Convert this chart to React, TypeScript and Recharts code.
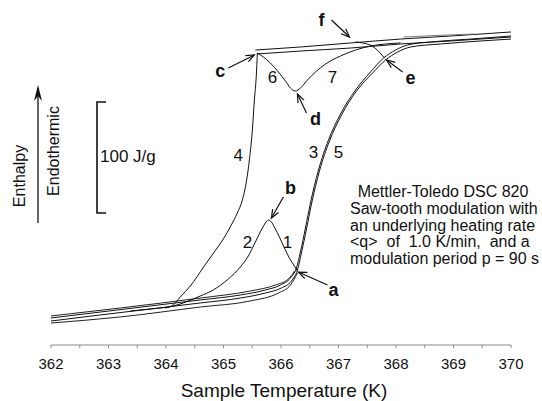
import React from "react";
import { LineChart, Line, XAxis, YAxis, ReferenceLine, ReferenceDot } from "recharts";

// temperature (K), enthalpy (J/g, arbitrary zero)
type Pt = [number, number];

const tempTicks = [362, 362.5, 363, 363.5, 364, 364.5, 365, 365.5, 366, 366.5, 367, 367.5, 368, 368.5, 369, 369.5, 370];

// heating runs 3 and 5: baseline, melting step, melt plateau
const run3: Pt[] = [
  [362.0, 24.1], [362.854, 29.4], [363.725, 34.8], [364.596, 40.2], [365.293, 44.6],
  [365.728, 49.1], [365.99, 53.5], [366.164, 59.8], [366.268, 68.7], [366.338, 83.0],
  [366.425, 104.4], [366.512, 126.7], [366.652, 156.2], [366.826, 182.9], [367.035, 206.1],
  [367.296, 227.5], [367.557, 243.6], [367.784, 256.1], [367.993, 263.2], [368.202, 267.7],
  [368.603, 270.4], [369.3, 273.0], [370.0, 275.7],
];
const run5: Pt[] = [
  [362.0, 21.4], [362.854, 26.8], [363.725, 32.1], [364.596, 37.5], [365.293, 41.9],
  [365.728, 46.4], [366.007, 50.9], [366.181, 57.1], [366.286, 66.9], [366.355, 82.1],
  [366.443, 103.5], [366.53, 125.8], [366.669, 155.3], [366.843, 182.0], [367.052, 205.2],
  [367.313, 226.6], [367.592, 242.7], [367.819, 254.3], [368.028, 261.4], [368.254, 265.9],
  [368.777, 268.6], [369.474, 271.3], [370.0, 273.0],
];
// other modulation cycles on the solid baseline
const baseUpper: Pt[] = [
  [362.0, 25.9], [363.202, 33.0], [364.596, 41.9], [365.467, 48.2], [365.902, 53.5],
  [366.129, 58.9], [366.233, 66.0],
];
const baseLower: Pt[] = [
  [362.0, 19.6], [363.202, 25.0], [364.596, 33.9], [365.467, 39.3], [365.955, 46.4],
  [366.164, 53.5], [366.286, 64.2],
];
// segments 2 and 1 (up to b, back down to a)
const seg21: Pt[] = [
  [363.376, 30.3], [363.725, 32.1], [364.125, 34.8], [364.596, 43.7], [364.822, 49.1],
  [365.084, 58.9], [365.293, 69.6], [365.432, 79.4], [365.537, 90.1], [365.606, 97.3],
  [365.676, 104.4], [365.728, 108.9], [365.78, 111.5], [365.833, 109.8], [365.902, 103.5],
  [365.972, 96.4], [366.059, 86.6], [366.146, 77.6], [366.233, 70.5], [366.286, 66.0],
];
// segment 4 (baseline up to c)
const seg4: Pt[] = [
  [363.986, 33.0], [364.125, 35.7], [364.247, 42.8], [364.422, 52.6], [364.666, 70.5],
  [364.84, 83.0], [364.997, 94.6], [365.136, 107.1], [365.24, 117.8], [365.328, 129.4],
  [365.397, 145.4], [365.45, 165.1], [365.502, 191.8], [365.537, 218.6], [365.571, 240.9],
  [365.589, 260.6],
];
// segments 6 and 7 (c down to d, back up to the melt)
const seg67: Pt[] = [
  [365.589, 260.6], [365.693, 257.0], [365.815, 251.6], [365.955, 243.6], [366.077, 235.6],
  [366.164, 229.3], [366.251, 226.6], [366.338, 229.3], [366.46, 236.5], [366.599, 243.6],
  [366.774, 250.7], [367.035, 257.9], [367.296, 263.2], [367.557, 266.8], [367.819, 268.6],
  [368.08, 269.5],
];
// melt plateau lines starting at c
const meltTop: Pt[] = [
  [365.554, 263.2], [366.338, 265.9], [367.209, 269.5], [368.08, 273.0], [368.951, 275.7], [370.0, 279.3],
];
const meltMid: Pt[] = [
  [365.589, 259.7], [366.338, 262.3], [367.209, 265.0], [368.08, 268.6], [368.951, 271.3], [370.0, 274.8],
];
const meltShort: Pt[] = [[368.132, 274.8], [368.8, 276.4], [369.352, 277.5]];
const dropAtE: Pt[] = [[367.296, 270.4], [367.557, 267.5], [367.801, 256.1]];

const curves: { pts: Pt[]; color: string }[] = [
  { pts: run3, color: "#111" },
  { pts: run5, color: "#111" },
  { pts: baseUpper, color: "#222" },
  { pts: baseLower, color: "#222" },
  { pts: seg21, color: "#111" },
  { pts: seg4, color: "#111" },
  { pts: seg67, color: "#111" },
  { pts: meltTop, color: "#111" },
  { pts: meltMid, color: "#111" },
  { pts: meltShort, color: "#777" },
  { pts: dropAtE, color: "#111" },
];

// lettered points: label position, arrow tail, arrow head
const letterNames = ["a", "b", "c", "d", "e", "f"];
const letterPos: Pt[] = [[366.913, 49.1], [366.164, 140.1], [364.944, 244.5], [366.599, 201.7], [368.254, 238.2], [366.704, 290.0]];
const arrowTail: Pt[] = [[366.808, 53.5], [366.042, 132.1], [365.084, 247.2], [366.443, 207.0], [368.115, 243.6], [366.878, 290.0]];
const arrowHead: Pt[] = [[366.303, 65.1], [365.833, 113.3], [365.537, 258.8], [366.286, 224.0], [367.836, 254.3], [367.191, 274.8]];

// segment numbers
const segNames = ["1", "2", "3", "4", "5", "6", "7"];
const segPos: Pt[] = [[366.112, 91.9], [365.415, 91.9], [366.564, 172.2], [365.258, 169.5], [367.0, 172.2], [365.85, 239.1], [366.895, 239.1]];

const noteLines = [
  "Saw-tooth modulation with",
  "an underlying heating rate",
  "<q>  of  1.0 K/min,  and a",
  "modulation period p = 90 s",
];

const font = "'Liberation Sans', Arial, Helvetica, sans-serif";

const toRows = (pts: Pt[]) => pts.map(([x, y]) => ({ x, y }));

function Arrow(props: any) {
  const { x1, y1, x2, y2 } = props;
  if ([x1, y1, x2, y2].some((v) => typeof v !== "number")) return null;
  const ang = Math.atan2(y2 - y1, x2 - x1);
  const len = 9;
  const spread = 0.38;
  const ax = x2 - len * Math.cos(ang - spread);
  const ay = y2 - len * Math.sin(ang - spread);
  const bx = x2 - len * Math.cos(ang + spread);
  const by = y2 - len * Math.sin(ang + spread);
  return (
    <g stroke="#111" strokeWidth={1.2} fill="none">
      <line x1={x1} y1={y1} x2={x2} y2={y2} />
      <path d={`M${ax},${ay} L${x2},${y2} L${bx},${by}`} />
    </g>
  );
}

const textDot = (label: string, size: number, bold: boolean) => (p: any) => (
  <text
    x={p.cx}
    y={p.cy}
    textAnchor="middle"
    dominantBaseline="central"
    fontFamily={font}
    fontSize={size}
    fontWeight={bold ? "bold" : "normal"}
    fill="#111"
  >
    {label}
  </text>
);

export default function App() {
  return (
    <div style={{ position: "absolute", left: 0, top: 0, width: 542, height: 401, background: "#fff" }}>
      <LineChart width={542} height={401} margin={{ top: 20, right: 31, bottom: 26, left: 51 }}>
        <XAxis
          type="number"
          dataKey="x"
          domain={[362, 370]}
          ticks={tempTicks}
          interval={0}
          height={30}
          allowDataOverflow
          stroke="#8a8a8a"
          tickSize={3}
          tickMargin={10}
          tick={{ fill: "#111", fontSize: 15, fontFamily: font }}
          tickFormatter={(v: number) => (Number.isInteger(v) ? String(v) : "")}
        />
        <YAxis type="number" dataKey="y" domain={[0, 290]} hide allowDataOverflow />
        {curves.map((c, i) => (
          <Line
            key={i}
            data={toRows(c.pts)}
            dataKey="y"
            type="monotone"
            stroke={c.color}
            strokeWidth={1}
            dot={false}
            activeDot={false}
            isAnimationActive={false}
          />
        ))}
        {letterNames.map((n, i) => (
          <ReferenceLine
            key={`arr-${n}`}
            segment={[
              { x: arrowTail[i][0], y: arrowTail[i][1] },
              { x: arrowHead[i][0], y: arrowHead[i][1] },
            ]}
            ifOverflow="visible"
            shape={Arrow}
          />
        ))}
        {letterNames.map((n, i) => (
          <ReferenceDot
            key={`lbl-${n}`}
            x={letterPos[i][0]}
            y={letterPos[i][1]}
            r={0}
            ifOverflow="visible"
            shape={textDot(n, 18, true)}
          />
        ))}
        {segNames.map((n, i) => (
          <ReferenceDot
            key={`seg-${n}`}
            x={segPos[i][0]}
            y={segPos[i][1]}
            r={0}
            ifOverflow="visible"
            shape={textDot(n, 17, false)}
          />
        ))}
      </LineChart>
      <svg
        width={542}
        height={401}
        style={{ position: "absolute", left: 0, top: 0, pointerEvents: "none" }}
        fontFamily={font}
        fill="#111"
      >
        <text x={19} y={176} transform="rotate(-90 19 176)" textAnchor="middle" dominantBaseline="central" fontSize={16}>
          Enthalpy
        </text>
        <text x={53} y={151} transform="rotate(-90 53 151)" textAnchor="middle" dominantBaseline="central" fontSize={16}>
          Endothermic
        </text>
        <line x1={38} y1={223} x2={38} y2={88} stroke="#111" strokeWidth={1.3} />
        <path d="M34,101 L38,85 L42,101 L38,96 Z" fill="#111" />
        <path d="M106,102 H97 V213 H106" stroke="#111" strokeWidth={1.6} fill="none" />
        <text x={100} y={156} dominantBaseline="central" fontSize={17}>
          100 J/g
        </text>
        <text x={443} y={197} textAnchor="middle" fontSize={16}>
          Mettler-Toledo DSC 820
        </text>
        {noteLines.map((t, i) => (
          <text key={i} x={350} y={214 + i * 16.5} fontSize={16} style={{ whiteSpace: "pre" }}>
            {t}
          </text>
        ))}
        <text x={284} y={397} textAnchor="middle" fontSize={19}>
          Sample Temperature (K)
        </text>
      </svg>
    </div>
  );
}
